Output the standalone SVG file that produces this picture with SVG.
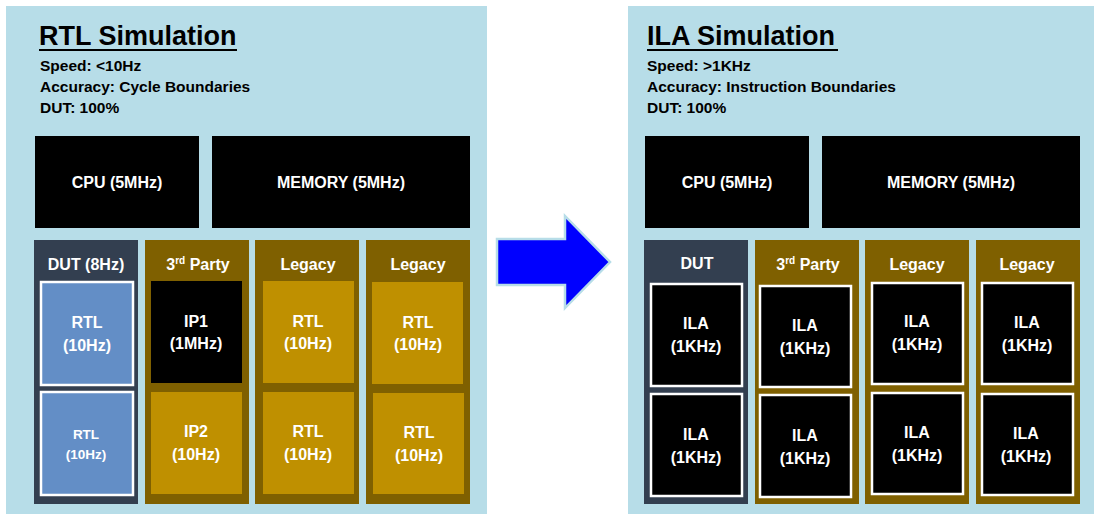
<svg xmlns="http://www.w3.org/2000/svg" width="1094" height="514" viewBox="0 0 1094 514">
  <style>
    text { font-family: "Liberation Sans", Arial, sans-serif; font-weight: bold; }
    .panel { fill: #B7DDE8; }
    .title { font-size: 27px; fill: #000; }
    .info { font-size: 15.5px; fill: #000; }
    .blk { fill: #000; }
    .lbl { font-size: 16px; fill: #fff; text-anchor: middle; }
    .sm { font-size: 13.5px; fill: #fff; text-anchor: middle; }
    .dut { fill: #333F50; }
    .brown { fill: #7F6000; }
    .gold { fill: #BF9000; }
    .rtlblue { fill: #638EC6; stroke: #fff; stroke-width: 2.5; }
    .ila { fill: #000; stroke: #fff; stroke-width: 2.5; }
  </style>
  <rect width="1094" height="514" fill="#fff"/>

  <!-- RTL simulation panel -->
  <g id="rtl-panel">
    <rect class="panel" x="6" y="6" width="481" height="508"/>
    <text class="title" x="39" y="45">RTL Simulation</text>
    <rect x="39" y="49" width="198" height="2" fill="#000"/>
    <text class="info" x="40" y="71">Speed: &lt;10Hz</text>
    <text class="info" x="40" y="92">Accuracy: Cycle Boundaries</text>
    <text class="info" x="40" y="113">DUT: 100%</text>
  </g>
  <g id="rtl-cpu">
    <rect class="blk" x="35" y="136" width="164" height="92"/>
    <text class="lbl" x="117" y="188">CPU (5MHz)</text>
  </g>
  <g id="rtl-memory">
    <rect class="blk" x="212" y="136" width="258" height="92"/>
    <text class="lbl" x="341" y="188">MEMORY (5MHz)</text>
  </g>
  <g id="rtl-dut">
    <rect class="dut" x="34" y="240" width="104" height="264"/>
    <text class="lbl" x="86" y="270">DUT (8Hz)</text>
    <rect class="rtlblue" x="41" y="282" width="92" height="103"/>
    <text class="lbl" x="87" y="328">RTL</text>
    <text class="lbl" x="87" y="351">(10Hz)</text>
    <rect class="rtlblue" x="41" y="392" width="92" height="103"/>
    <text class="sm" x="86" y="439">RTL</text>
    <text class="sm" x="86" y="459">(10Hz)</text>
  </g>
  <g id="rtl-3rd-party">
    <rect class="brown" x="145" y="240" width="104" height="264"/>
    <text class="lbl" x="198" y="270">3<tspan font-size="10px" dy="-6">rd</tspan><tspan dy="6"> Party</tspan></text>
    <rect class="blk" x="151" y="281" width="91" height="102"/>
    <text class="lbl" x="196" y="327">IP1</text>
    <text class="lbl" x="196" y="349">(1MHz)</text>
    <rect class="gold" x="151" y="392" width="91" height="102"/>
    <text class="lbl" x="196" y="437">IP2</text>
    <text class="lbl" x="196" y="460">(10Hz)</text>
  </g>
  <g id="rtl-legacy-1">
    <rect class="brown" x="255" y="240" width="104" height="264"/>
    <text class="lbl" x="308" y="270">Legacy</text>
    <rect class="gold" x="263" y="281" width="91" height="102"/>
    <text class="lbl" x="308" y="327">RTL</text>
    <text class="lbl" x="308" y="349">(10Hz)</text>
    <rect class="gold" x="263" y="392" width="91" height="102"/>
    <text class="lbl" x="308" y="437">RTL</text>
    <text class="lbl" x="308" y="460">(10Hz)</text>
  </g>
  <g id="rtl-legacy-2">
    <rect class="brown" x="366" y="240" width="104" height="264"/>
    <text class="lbl" x="418" y="270">Legacy</text>
    <rect class="gold" x="372" y="282" width="91" height="102"/>
    <text class="lbl" x="418" y="328">RTL</text>
    <text class="lbl" x="418" y="350">(10Hz)</text>
    <rect class="gold" x="373" y="393" width="91" height="101"/>
    <text class="lbl" x="419" y="438">RTL</text>
    <text class="lbl" x="419" y="461">(10Hz)</text>
  </g>

  <!-- ILA simulation panel -->
  <g id="ila-panel">
    <rect class="panel" x="628" y="6" width="466" height="508"/>
    <text class="title" x="647" y="45">ILA Simulation</text>
    <rect x="647" y="49" width="191" height="2" fill="#000"/>
    <text class="info" x="647" y="71">Speed: &gt;1KHz</text>
    <text class="info" x="647" y="92">Accuracy: Instruction Boundaries</text>
    <text class="info" x="647" y="113">DUT: 100%</text>
  </g>
  <g id="ila-cpu">
    <rect class="blk" x="645" y="136" width="164" height="92"/>
    <text class="lbl" x="727" y="188">CPU (5MHz)</text>
  </g>
  <g id="ila-memory">
    <rect class="blk" x="822" y="136" width="258" height="92"/>
    <text class="lbl" x="951" y="188">MEMORY (5MHz)</text>
  </g>
  <g id="ila-dut">
    <rect class="dut" x="644" y="240" width="104" height="264"/>
    <text class="lbl" x="697" y="269">DUT</text>
    <rect class="ila" x="651" y="284" width="91" height="102"/>
    <text class="lbl" x="696" y="329">ILA</text>
    <text class="lbl" x="696" y="352">(1KHz)</text>
    <rect class="ila" x="651" y="394" width="91" height="102"/>
    <text class="lbl" x="696" y="440">ILA</text>
    <text class="lbl" x="696" y="463">(1KHz)</text>
  </g>
  <g id="ila-3rd-party">
    <rect class="brown" x="755" y="240" width="104" height="264"/>
    <text class="lbl" x="808" y="270">3<tspan font-size="10px" dy="-6">rd</tspan><tspan dy="6"> Party</tspan></text>
    <rect class="ila" x="760" y="286" width="91" height="101"/>
    <text class="lbl" x="805" y="331">ILA</text>
    <text class="lbl" x="805" y="354">(1KHz)</text>
    <rect class="ila" x="760" y="395" width="91" height="102"/>
    <text class="lbl" x="805" y="441">ILA</text>
    <text class="lbl" x="805" y="464">(1KHz)</text>
  </g>
  <g id="ila-legacy-1">
    <rect class="brown" x="865" y="240" width="104" height="264"/>
    <text class="lbl" x="917" y="270">Legacy</text>
    <rect class="ila" x="872" y="283" width="91" height="101"/>
    <text class="lbl" x="917" y="327">ILA</text>
    <text class="lbl" x="917" y="350">(1KHz)</text>
    <rect class="ila" x="872" y="393" width="91" height="101"/>
    <text class="lbl" x="917" y="438">ILA</text>
    <text class="lbl" x="917" y="461">(1KHz)</text>
  </g>
  <g id="ila-legacy-2">
    <rect class="brown" x="976" y="240" width="104" height="264"/>
    <text class="lbl" x="1027" y="270">Legacy</text>
    <rect class="ila" x="982" y="283" width="91" height="101"/>
    <text class="lbl" x="1027" y="328">ILA</text>
    <text class="lbl" x="1027" y="351">(1KHz)</text>
    <rect class="ila" x="982" y="394" width="91" height="101"/>
    <text class="lbl" x="1026" y="439">ILA</text>
    <text class="lbl" x="1026" y="462">(1KHz)</text>
  </g>

  <!-- block arrow from RTL to ILA -->
  <g id="connectors">
    <path d="M497,239 L565,239 L565,216 L610,262 L565,308 L565,285 L497,285 Z" fill="#0000FF" stroke="#B7DDE8" stroke-width="2.5" stroke-linejoin="miter"/>
  </g>
</svg>
